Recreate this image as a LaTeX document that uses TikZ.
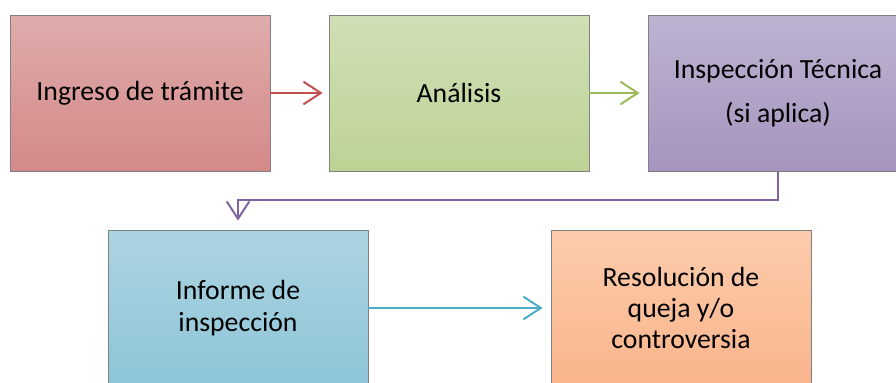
\documentclass[tikz,border=0pt]{standalone}
\usepackage{fontspec}
\setmainfont{Carlito}
\usetikzlibrary{arrows.meta}
\definecolor{rosetop}{RGB}{223,172,172}
\definecolor{rosebot}{RGB}{212,137,136}
\definecolor{greentop}{RGB}{208,223,182}
\definecolor{greenbot}{RGB}{189,211,149}
\definecolor{lilactop}{RGB}{189,179,208}
\definecolor{lilacbot}{RGB}{166,148,191}
\definecolor{skytop}{RGB}{172,212,225}
\definecolor{skybot}{RGB}{141,197,216}
\definecolor{peachtop}{RGB}{251,204,172}
\definecolor{peachbot}{RGB}{250,180,139}
\definecolor{redline}{RGB}{192,80,77}
\definecolor{greenline}{RGB}{155,187,89}
\definecolor{lilacline}{RGB}{128,100,162}
\definecolor{skyline}{RGB}{75,172,198}
\begin{document}
\begin{tikzpicture}
[x=0.75pt,y=-0.75pt,
  boxdecorate/.style={shape=rectangle,draw=black!50,line width=0.6pt,
    minimum width=195pt,minimum height=117pt,inner sep=0pt,align=center,
    font=\fontsize{20.8}{23.5}\selectfont},%
  linedecorate/.style={line width=1.5pt,
    -{Straight Barb[length=13pt,width=17pt,line width=1.5pt]}}]
\clip (0,0) rectangle (896,382);
%% boxes
\foreach \nodename/\x/\y/\topcol/\botcol/\txt in {
  ingreso/140/93/rosetop/rosebot/{Ingreso de trámite},
  analisis/459/93/greentop/greenbot/{Análisis},
  inspeccion/778/93/lilactop/lilacbot/{Inspección Técnica\\[9.5pt](si aplica)},
  informe/238/308/skytop/skybot/{Informe de\\inspección},
  resolucion/681/308/peachtop/peachbot/{Resolución de\\queja y/o\\controversia}} {
  \node (\nodename) at (\x,\y) [boxdecorate,top color=\topcol,bottom color=\botcol] {\txt};
}
%% arrows
\draw[linedecorate,redline,shorten >=4.5pt] (ingreso) -- (analisis);
\draw[linedecorate,greenline,shorten >=6pt] (analisis) -- (inspeccion);
\draw[linedecorate,lilacline,shorten >=6.75pt]
  (inspeccion.south) -- ++(0,29) -| (informe.north);
\draw[linedecorate,skyline,shorten >=6pt] (informe) -- (resolucion);
\end{tikzpicture}
\end{document}
